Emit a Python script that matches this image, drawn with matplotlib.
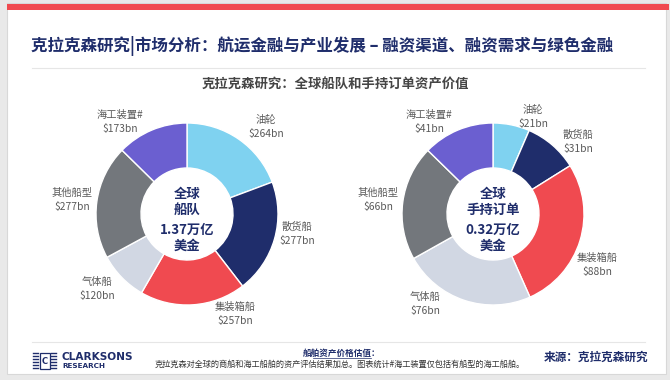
import matplotlib
matplotlib.use("Agg")
import matplotlib.pyplot as plt
from matplotlib.patches import Rectangle

plt.rcParams['font.family'] = ['Noto Sans CJK SC', 'DejaVu Sans']

# ---------------- data ----------------
categories = ["油轮", "散货船", "集装箱船", "气体船", "其他船型", "海工装置#"]
fleet_values = [264, 277, 257, 120, 277, 173]        # $bn
orderbook_values = [21, 31, 88, 76, 66, 41]          # $bn
fleet_center = ["全球", "船队", "1.37万亿", "美金"]
orderbook_center = ["全球", "手持订单", "0.32万亿", "美金"]
colors = ["#7fd2f0", "#1f2d6b", "#f04a50", "#d1d7e3", "#73777c", "#6b5fd0"]

title = "克拉克森研究|市场分析：航运金融与产业发展 – 融资渠道、融资需求与绿色金融"
subtitle = "克拉克森研究：全球船队和手持订单资产价值"
note_head = "船舶资产价格估值："
note_body = "克拉克森对全球的商船和海工船舶的资产评估结果加总。图表统计#海工装置仅包括有船型的海工船舶。"
source = "来源：克拉克森研究"

W, H = 670, 380
NAVY = "#1f2d6b"
LABEL = "#595959"

fig = plt.figure(figsize=(W / 100, H / 100), dpi=100)
fig.patch.set_facecolor("#e9e9e9")
ax = fig.add_axes([0, 0, 1, 1])


def Y(y):
    return H - y


# slide background
ax.add_patch(Rectangle((7, Y(374)), 659, 371, facecolor="white", edgecolor="#d8d8d8", lw=0.8, zorder=0))
ax.add_patch(Rectangle((7, Y(10)), 662, 6.5, facecolor="#f04a50", edgecolor="none", zorder=1))

# title & separators
ax.text(31, Y(46), title, fontsize=11.9, fontweight="bold", color=NAVY, va="center", ha="left")
ax.plot([32, 645], [Y(68), Y(68)], color="#e6e6e6", lw=0.8)
ax.text(335, Y(84), subtitle, fontsize=9.6, fontweight="bold", color="#454545", va="center", ha="center")
ax.plot([32, 645], [Y(342), Y(342)], color="#e6e6e6", lw=0.8)

# donuts
R = 91
inner_w = 45
pies = [
    ((187, 214), fleet_values, fleet_center,
     [(266, 127), (297, 234), (235, 314), (97, 289), (72, 200), (120, 122)]),
    ((493, 214), orderbook_values, orderbook_center,
     [(533, 117), (578, 142), (597, 265), (425, 304), (378, 200), (429, 122)]),
]
for (cx, cy), vals, ctext, lpos in pies:
    ax.pie(vals, colors=colors, startangle=90, counterclock=False, radius=R,
           center=(cx, Y(cy)), frame=True,
           wedgeprops=dict(width=inner_w, edgecolor="white", linewidth=1.0))
    for cat, v, (lx, ly) in zip(categories, vals, lpos):
        ax.text(lx, Y(ly), f"{cat}\n${v}bn", fontsize=7.4, color=LABEL,
                ha="center", va="center", linespacing=1.45)
    ax.text(cx, Y(202), f"{ctext[0]}\n{ctext[1]}", fontsize=9.6, fontweight="bold",
            color=NAVY, ha="center", va="center", linespacing=1.2)
    ax.text(cx, Y(238), f"{ctext[2]}\n{ctext[3]}", fontsize=9.6, fontweight="bold",
            color=NAVY, ha="center", va="center", linespacing=1.2)

# footer
ax.text(342, Y(353), note_head, fontsize=6.2, fontweight="bold", style="italic",
        color=NAVY, ha="center", va="center")
ax.plot([313, 371], [Y(358), Y(358)], color=NAVY, lw=0.5)
ax.text(340, Y(364), note_body, fontsize=5.9, style="italic", color="#333333",
        ha="center", va="center")
ax.text(648, Y(357), source, fontsize=8.4, fontweight="bold", color=NAVY,
        ha="right", va="center")

# logo
for i in range(6):
    yy = Y(353 + i * 3)
    ax.plot([33, 38], [yy, yy], color=NAVY, lw=1.0)
    ax.plot([51, 56], [yy, yy], color=NAVY, lw=1.0)
ax.add_patch(Rectangle((39.5, Y(369)), 10, 16, facecolor="white", edgecolor=NAVY, lw=0.9))
ax.text(44.5, Y(361), "C", fontsize=6, fontweight="bold", color=NAVY, ha="center", va="center",
        family="DejaVu Sans")
ax.text(62, Y(357), "CLARKSONS", fontsize=7.6, fontweight="bold", color=NAVY, ha="left",
        va="center", family="DejaVu Sans")
ax.text(62, Y(366.5), "RESEARCH", fontsize=5.2, fontweight="bold", color=NAVY, ha="left",
        va="center", family="DejaVu Sans")

ax.set_xlim(0, W)
ax.set_ylim(0, H)
ax.set_aspect("auto")
ax.axis("off")

fig.savefig("out.png", dpi=100, facecolor=fig.get_facecolor())
